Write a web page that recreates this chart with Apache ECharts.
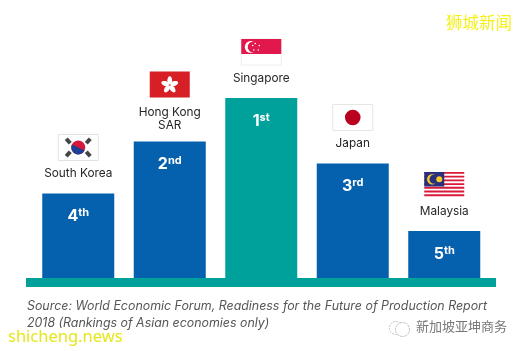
<!DOCTYPE html>
<html>
<head>
<meta charset="utf-8">
<style>
html, body { margin: 0; padding: 0; background: #fff; }
#chart { width: 524px; height: 351px; }
</style>
<script src="https://cdn.jsdelivr.net/npm/echarts@6/dist/echarts.min.js"></script>
</head>
<body>
<div id="chart"></div>
<script>
// bar heights, there is no value axis in the original
var countries = ['South Korea', 'Hong Kong\nSAR', 'Singapore', 'Japan', 'Malaysia'];
var barHeights = [84.5, 136.5, 180, 114.5, 47];
var rankNumbers = ['4', '2', '1', '3', '5'];
var rankSuffixes = ['th', 'nd', 'st', 'rd', 'th'];
var flags = ['korea', 'hongkong', 'singapore', 'japan', 'malaysia'];
var sourceLines = [
    'Source: World Economic Forum, Readiness for the Future of Production Report',
    '2018 (Rankings of Asian economies only)'
];

var BLUE = '#0560ad';
var TEAL = '#00a19b';
var FONT = 'Inter, "Noto Sans", sans-serif';
var CJK = '"Noto Sans CJK SC", sans-serif';

var FLAG_W = 40;
var FLAG_H = 26;

function rect(x, y, w, h, fill, stroke) {
    return { type: 'rect', shape: { x: x, y: y, width: w, height: h }, style: { fill: fill, stroke: stroke || null, lineWidth: 1 } };
}
function circle(cx, cy, r, fill) {
    return { type: 'circle', shape: { cx: cx, cy: cy, r: r }, style: { fill: fill } };
}

// all flag parts are relative to the flag's top left corner
function flag_parts(name) {
    var w = FLAG_W, h = FLAG_H, parts = [], i;
    if (name === 'korea') {
        parts.push(rect(0, 0, w, h, '#fff', '#e2e2e2'));
        parts.push(circle(20, 13, 7, '#d8163c'));
        parts.push({
            type: 'sector', x: 20, y: 13, rotation: -0.45,
            shape: { cx: 0, cy: 0, r: 7, startAngle: 0, endAngle: Math.PI },
            style: { fill: '#1d3f94' }
        });
        [[10, 6.5, -0.85], [30, 6.5, 0.85], [10, 19.5, 0.85], [30, 19.5, -0.85]].forEach(function (t) {
            parts.push({
                type: 'rect', x: t[0], y: t[1], rotation: t[2],
                shape: { x: -3, y: -2, width: 6, height: 4 },
                style: { fill: '#444' }
            });
        });
    } else if (name === 'hongkong') {
        parts.push(rect(0, 0, w, h, '#d71f26'));
        for (i = 0; i < 5; i++) {
            var a = i * Math.PI * 2 / 5;
            parts.push({
                type: 'ellipse', x: 20, y: 13.5, rotation: -a,
                shape: { cx: 0, cy: -4.4, rx: 2.4, ry: 4.4 },
                style: { fill: '#fff' }
            });
        }
        parts.push(circle(20, 13.5, 1.2, '#e88'));
    } else if (name === 'singapore') {
        parts.push(rect(0, 0, w, h, '#fff', '#ececec'));
        parts.push(rect(0, 0, w, 15, '#e2184c'));
        parts.push(circle(9.5, 8, 6, '#fff'));
        parts.push(circle(12, 8, 5.5, '#e2184c'));
        [[14, 4.5], [18, 6.5], [17, 11], [12.5, 11], [11.5, 6.5]].forEach(function (s) {
            parts.push(circle(s[0], s[1], 0.8, '#fff'));
        });
    } else if (name === 'japan') {
        parts.push(rect(0, 0, w, h, '#fff', '#e6e6e6'));
        parts.push(circle(20, 13, 7.8, '#b9001f'));
    } else if (name === 'malaysia') {
        parts.push(rect(0, 0, w, h, '#fff'));
        for (i = 0; i < 7; i++) {
            parts.push(rect(0, i * h / 7, w, h / 14, '#d9193a'));
        }
        parts.push(rect(0, 0, 20, 14.5, '#2a2f7e'));
        parts.push(circle(8, 7.2, 5.2, '#f7cf24'));
        parts.push(circle(9.8, 7.2, 4.6, '#2a2f7e'));
        parts.push(circle(15, 7.2, 3, '#f7cf24'));
    }
    return parts;
}

// flag and country name float above each bar, so they follow the bar tops
function render_flag(params, api) {
    var i = params.dataIndex;
    var top = api.coord([api.value(0), api.value(1)]);
    var lines = countries[i].split('\n').length;
    var flagTop = top[1] - 59 - (lines - 1) * 11;
    return {
        type: 'group',
        children: [
            { type: 'group', x: top[0] - FLAG_W / 2, y: flagTop, children: flag_parts(flags[i]) },
            {
                type: 'text',
                x: top[0],
                y: flagTop + FLAG_H + 6.5 + (lines - 1) * 1.5,
                style: {
                    text: countries[i],
                    fill: '#262626',
                    font: '11.8px ' + FONT,
                    lineHeight: 13,
                    align: 'center',
                    verticalAlign: 'top'
                }
            }
        ]
    };
}

function get_option() {
    return {
        animation: false,
        grid: { left: 32.5, right: 34, top: 18, bottom: 73 },
        xAxis: {
            type: 'category',
            data: countries,
            axisLine: { show: false },
            axisTick: { show: false },
            axisLabel: { show: false }
        },
        yAxis: { type: 'value', min: 0, max: 260, show: false, splitLine: { show: false } },
        series: [
            {
                type: 'bar',
                barWidth: 72,
                data: barHeights.map(function (v, i) {
                    return { value: v, itemStyle: { color: rankNumbers[i] === '1' ? TEAL : BLUE } };
                }),
                label: {
                    show: true,
                    position: 'insideTop',
                    distance: 14,
                    formatter: function (p) {
                        return '{num|' + rankNumbers[p.dataIndex] + '}{sup|' + rankSuffixes[p.dataIndex] + '}';
                    },
                    rich: {
                        num: { color: '#fff', fontFamily: FONT, fontWeight: 700, fontSize: 16, lineHeight: 17, verticalAlign: 'bottom' },
                        sup: { color: '#fff', fontFamily: FONT, fontWeight: 700, fontSize: 11, lineHeight: 17, verticalAlign: 'top' }
                    }
                }
            },
            {
                type: 'custom',
                renderItem: render_flag,
                data: barHeights.map(function (v, i) { return [i, v]; }),
                encode: { x: 0, y: 1 },
                silent: true
            }
        ],
        graphic: [
            { type: 'rect', left: 26, top: 278, z: 5, shape: { width: 470, height: 9 }, style: { fill: TEAL } },
            { type: 'text', left: 27, top: 300, style: { text: sourceLines[0], fill: '#555', font: 'italic 12.4px ' + FONT } },
            { type: 'text', left: 27, top: 317, style: { text: sourceLines[1], fill: '#555', font: 'italic 12.4px ' + FONT } },
            {
                type: 'text', left: 446, top: 14,
                style: { text: '狮城新闻', fill: '#f4f01e', font: '16.5px ' + CJK, shadowColor: '#555', shadowBlur: 1, shadowOffsetX: 1, shadowOffsetY: 1 }
            },
            {
                type: 'text', left: 8, top: 329,
                style: { text: 'shicheng.news', fill: '#e6e61c', font: '16.5px "Noto Sans", sans-serif', shadowColor: '#666', shadowBlur: 1, shadowOffsetX: 0.5, shadowOffsetY: 0.5 }
            },
            { type: 'circle', left: 387, top: 319, shape: { r: 6.5 }, style: { fill: 'none', stroke: '#c4c4c4', lineWidth: 1, lineDash: [2, 1] } },
            { type: 'circle', left: 395, top: 322, shape: { r: 7 }, style: { fill: '#fff', stroke: '#b4b4b4', lineWidth: 1, lineDash: [2, 1] } },
            { type: 'text', left: 416, top: 320, style: { text: '新加坡亚坤商务', fill: '#777', font: '13px ' + CJK } }
        ]
    };
}

var chart = echarts.init(document.getElementById('chart'), null, { renderer: 'canvas' });
chart.setOption(get_option());
</script>
</body>
</html>
